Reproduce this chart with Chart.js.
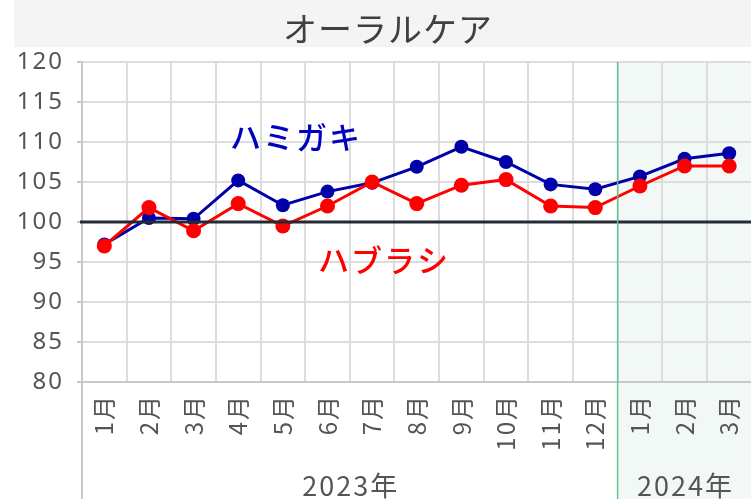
<!DOCTYPE html>
<html><head><meta charset="utf-8">
<script src="https://cdn.jsdelivr.net/npm/chart.js@4/dist/chart.umd.min.js"></script>
<style>html,body{margin:0;padding:0;background:#fff;overflow:hidden;width:751px;height:499px}#c{display:block}</style>
</head><body>
<canvas id="c" width="751" height="499"></canvas>
<script>
const title = 'オーラルケア';
const months = ['1月','2月','3月','4月','5月','6月','7月','8月','9月','10月','11月','12月','1月','2月','3月'];
const years = [{label:'2023年', from:0, to:11}, {label:'2024年', from:12, to:14}];
const hamigaki = [97.2, 100.5, 100.4, 105.2, 102.1, 103.8, 104.9, 106.9, 109.4, 107.5, 104.7, 104.1, 105.7, 107.9, 108.6];
const haburashi = [97.0, 101.8, 98.9, 102.3, 99.5, 102.0, 105.0, 102.3, 104.6, 105.3, 102.0, 101.8, 104.5, 107.0, 107.0];
const seriesNames = ['ハミガキ', 'ハブラシ'];
const baseline = 100;
const yMin = 80, yMax = 120, yStep = 5;

const VIEW_W = 751;
const JP = '"Noto Sans CJK JP", "Noto Sans", sans-serif';

const deco = {
  id: 'deco',
  beforeDraw(chart) {
    const ctx = chart.ctx, ca = chart.chartArea, x = chart.scales.x;
    ctx.letterSpacing = '2px';
    ctx.save();
    ctx.fillStyle = '#f4f4f4';
    ctx.fillRect(14, 0, chart.width - 14, 47);
    ctx.fillStyle = '#404040';
    ctx.letterSpacing = '1px';
    ctx.font = '34px ' + JP;
    ctx.textAlign = 'center';
    ctx.textBaseline = 'middle';
    ctx.fillText(title, 388, 29);
    // shaded 2024 region
    const hw = (x.getPixelForValue(1) - x.getPixelForValue(0)) / 2;
    const sx = x.getPixelForValue(12) - hw;
    ctx.fillStyle = '#f2f8f5';
    ctx.fillRect(sx, ca.top, chart.width - sx, chart.height - ca.top);
    ctx.restore();
  },
  afterDatasetsDraw(chart) {
    const ctx = chart.ctx, ca = chart.chartArea, x = chart.scales.x, y = chart.scales.y;
    ctx.save();
    const hw = (x.getPixelForValue(1) - x.getPixelForValue(0)) / 2;
    // baseline 100
    const by = y.getPixelForValue(baseline);
    ctx.strokeStyle = '#222a35';
    ctx.lineWidth = 3;
    ctx.beginPath(); ctx.moveTo(ca.left - 2, by); ctx.lineTo(chart.width, by); ctx.stroke();
    // y axis extension to bottom
    ctx.strokeStyle = '#c8c8c8';
    ctx.lineWidth = 2;
    ctx.beginPath(); ctx.moveTo(ca.left, ca.bottom); ctx.lineTo(ca.left, chart.height); ctx.stroke();
    // green separator
    const sx = x.getPixelForValue(12) - hw;
    ctx.strokeStyle = '#62c48f';
    ctx.lineWidth = 1.5;
    ctx.beginPath(); ctx.moveTo(sx, ca.top); ctx.lineTo(sx, chart.height); ctx.stroke();
    // year labels
    ctx.fillStyle = '#555';
    ctx.font = '27px ' + JP;
    ctx.textAlign = 'center';
    ctx.textBaseline = 'middle';
    years.forEach(g => {
      const l = x.getPixelForValue(g.from) - hw, r = x.getPixelForValue(g.to) + hw;
      ctx.fillText(g.label, (l + r) / 2 + 1, 486);
    });
    // series labels
    ctx.font = '500 31px ' + JP;
    ctx.fillStyle = '#0000c0';
    ctx.fillText(seriesNames[0], 296, 137);
    ctx.fillStyle = '#ff0000';
    ctx.fillText(seriesNames[1], 384, 260);
    ctx.restore();
  }
};

function makeConfig() {
  return {
    type: 'line',
    data: {
      labels: months,
      datasets: [
        {label: seriesNames[1], data: haburashi, borderColor: '#ff0000', backgroundColor: '#ff0000', borderWidth: 3, pointRadius: 7.5, pointBorderWidth: 0, pointHoverRadius: 7.5},
        {label: seriesNames[0], data: hamigaki, borderColor: '#0000a8', backgroundColor: '#0000a8', borderWidth: 3, pointRadius: 7, pointBorderWidth: 0, pointHoverRadius: 7}
      ]
    },
    options: {
      responsive: false,
      maintainAspectRatio: false,
      animation: false,
      events: [],
      layout: {padding: {top: 62, left: 0, right: 0, bottom: 0}},
      plugins: {legend: {display: false}, title: {display: false}, tooltip: {enabled: false}},
      scales: {
        x: {
          offset: true,
          grid: {offset: true, color: '#dcdcdc', lineWidth: 2, drawTicks: false},
          border: {color: '#c8c8c8', width: 2},
          ticks: {maxRotation: 90, minRotation: 90, padding: 12, color: '#555', font: {family: JP, size: 24}, autoSkip: false},
          afterFit(s) { s.height = 117; s.paddingLeft = 0; s.paddingRight = 0; }
        },
        y: {
          min: yMin, max: yMax,
          grid: {color: '#dcdcdc', lineWidth: 2, tickLength: 5, tickColor: '#c8c8c8'},
          border: {color: '#c8c8c8', width: 2},
          ticks: {stepSize: yStep, padding: 13, color: '#555', font: {family: '"Noto Sans", sans-serif', size: 24}},
          afterFit(s) { s.width = 82; s.paddingTop = 0; s.paddingBottom = 0; }
        }
      }
    },
    plugins: [deco]
  };
}

const canvas = document.getElementById('c');
let chart = new Chart(canvas, makeConfig());
// Chart.js reserves a little room on the right of the category axis; widen the
// canvas (the overflow is clipped by the window) so the plot reaches the edge.
let ext = VIEW_W - chart.scales.x.right;
if (ext > 0.5 && ext < 60) {
  chart.destroy();
  canvas.width = Math.round(VIEW_W + ext);
  canvas.height = 499;
  chart = new Chart(canvas, makeConfig());
}
</script>
</body></html>
